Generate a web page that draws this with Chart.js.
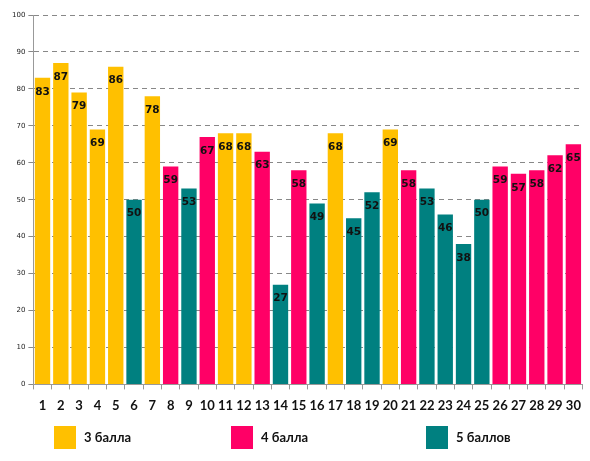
<!DOCTYPE html>
<html>
<head>
<meta charset="utf-8">
<script src="https://cdn.jsdelivr.net/npm/chart.js@4"></script>
<style>
  html, body { margin: 0; padding: 0; background: #fff; }
  #wrap { width: 590px; height: 461px; position: relative; }
</style>
</head>
<body>
<div id="wrap"><canvas id="chart"></canvas></div>
<script>
// task numbers
const labels = ['1','2','3','4','5','6','7','8','9','10','11','12','13','14','15',
                '16','17','18','19','20','21','22','23','24','25','26','27','28','29','30'];
// percent of pupils who solved the task
const values = [83, 87, 79, 69, 86, 50, 78, 59, 53, 67, 68, 68, 63, 27, 58,
                49, 68, 45, 52, 69, 58, 53, 46, 38, 50, 59, 57, 58, 62, 65];
// grade group of each task: 3, 4 or 5
const grades = [3, 3, 3, 3, 3, 5, 3, 4, 5, 4, 3, 3, 4, 5, 4,
                5, 3, 5, 5, 3, 4, 5, 5, 5, 5, 4, 4, 4, 4, 4];
const gradeNames = ['3 балла', '4 балла', '5 баллов'];
const gradeKeys = [3, 4, 5];
const yTicks = [0, 10, 20, 30, 40, 50, 60, 70, 80, 90, 100];

const colors = { 3: '#FFC000', 4: '#FF0066', 5: '#008080' };

// value labels inside the top of each bar
const barLabels = {
    id: 'barLabels',
    afterDatasetsDraw(chart) {
        const ctx = chart.ctx;
        const meta = chart.getDatasetMeta(0);
        ctx.save();
        ctx.font = 'bold 10.5px "DejaVu Sans"';
        ctx.fillStyle = '#111';
        ctx.textAlign = 'center';
        ctx.textBaseline = 'middle';
        meta.data.forEach((bar, i) => {
            ctx.fillText(String(values[i]), bar.x, bar.y + 14);
        });
        ctx.restore();
    }
};

// legend row under the axis
const bottomLegend = {
    id: 'bottomLegend',
    afterDraw(chart) {
        const ctx = chart.ctx;
        const xs = [54, 231, 426];
        ctx.save();
        ctx.font = 'bold 13px Lato';
        ctx.textBaseline = 'middle';
        gradeKeys.forEach((g, i) => {
            ctx.fillStyle = colors[g];
            ctx.fillRect(xs[i], 426, 22, 23);
            ctx.fillStyle = '#111';
            ctx.fillText(gradeNames[i], xs[i] + 30, 438);
        });
        ctx.restore();
    }
};

new Chart(document.getElementById('chart'), {
    type: 'bar',
    data: {
        labels,
        datasets: [{
            data: values,
            backgroundColor: grades.map(g => colors[g]),
            borderWidth: 0,
            barPercentage: 0.84,
            categoryPercentage: 1
        }]
    },
    options: {
        responsive: true,
        maintainAspectRatio: false,
        animation: false,
        layout: { padding: { left: 9, right: 5, top: 15, bottom: 38 } },
        plugins: { legend: { display: false }, tooltip: { enabled: false } },
        scales: {
            x: {
                grid: { display: true, drawOnChartArea: false, offset: true, tickLength: 5, color: '#999' },
                border: { color: '#999' },
                ticks: { color: '#111', padding: 9, font: { family: 'Lato', size: 13, weight: 'bold' }, maxRotation: 0 }
            },
            y: {
                min: 0, max: 100,
                afterBuildTicks: axis => { axis.ticks = yTicks.map(v => ({ value: v })); },
                grid: { color: '#888', tickLength: 5, tickBorderDash: [0, 0] },
                // border.dash dashes the gridlines in v4
                border: { color: '#999', dash: [5, 4] },
                ticks: { color: '#222', padding: 3, font: { family: 'DejaVu Sans', size: 7 } }
            }
        }
    },
    plugins: [barLabels, bottomLegend]
});
</script>
</body>
</html>
